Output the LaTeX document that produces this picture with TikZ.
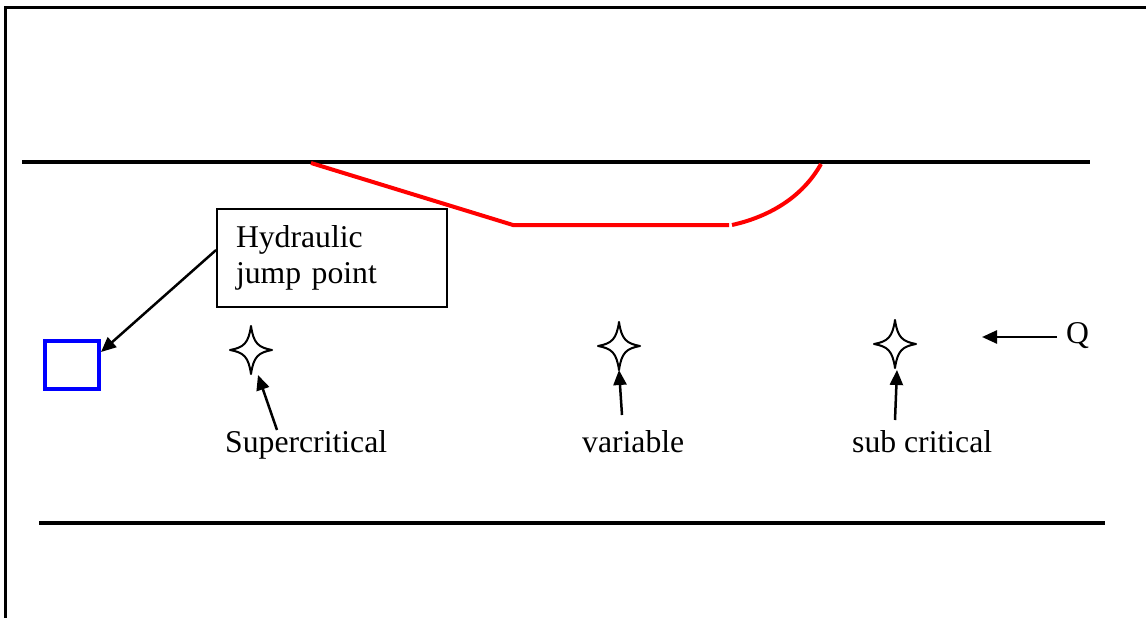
\documentclass[tikz,border=0pt]{standalone}
\usepackage{fontspec}
\setmainfont{Liberation Serif}
\usetikzlibrary{arrows.meta}
\tikzset{
  lbl/.style={inner sep=0pt, anchor=base west, font=\fontsize{31.7}{36}\selectfont},
  bank/.style={line width=4pt},
  arr/.style={line width=2.5pt, -{Triangle[length=15pt,width=13pt]}},
  red path/.style={red, line width=4pt},
  star4/.pic={\draw[line width=2pt, fill=white, line join=round]
    (0,-24) .. controls (2.5,-7) and (7,-2.5) .. (21,0)
            .. controls (7,2.5) and (2.5,7) .. (0,24)
            .. controls (-2.5,7) and (-7,2.5) .. (-21,0)
            .. controls (-7,-2.5) and (-2.5,-7) .. cycle;}
}
\begin{document}
\begin{tikzpicture}[x=1pt,y=-1pt]
\useasboundingbox (0,0) rectangle (1146,618);
% frame
\draw[line width=2.5pt] (5.5,618) -- (5.5,7.5) -- (1146,7.5);
% channel banks
\coordinate (t1) at (22,162);
\coordinate (t2) at (1090,162);
\coordinate (b1) at (39,523);
\coordinate (b2) at (1105,523);
\draw[bank] (t1) -- (t2);
\draw[bank] (b1) -- (b2);
% red profile
\coordinate (r1) at (311,163);
\coordinate (r2) at (513,225);
\coordinate (r3) at (729,225);
\coordinate (r4) at (732,225);
\coordinate (r5) at (821,164);
\draw[red path] (r1) -- (r2) -- (r3);
\draw[red path] (r4) .. controls (768,217) and (802,198) .. (r5);
% hydraulic jump box
\node[draw, line width=1.8pt, minimum width=230pt, minimum height=98pt,
      text width=192pt, align=left, inner xsep=19pt,
      font=\fontsize{31.7}{36}\selectfont] (hjp) at (332,258)
      {Hydraulic\\jump point};
\node[draw=blue, line width=4pt, minimum width=54pt, minimum height=48pt, inner sep=0pt] (sq) at (72,365) {};
\draw[arr] ([yshift=8pt]hjp.west) -- ([yshift=13pt]sq.east);
% stars
\coordinate (s1) at (251,350);
\coordinate (s2) at (619,346);
\coordinate (s3) at (895,344);
\pic at (s1) {star4};
\pic at (s2) {star4};
\pic at (s3) {star4};
\coordinate (s1tip) at (258,375);
\coordinate (s2tip) at (619,370);
\coordinate (s3tip) at (897,370);
% labels
\node[lbl] (sup) at (225,452) {Supercritical};
\node[lbl] (var) at (582,452) {variable};
\node[lbl] (sub) at (852,452) {sub critical};
\node[lbl] (q) at (1066,343) {Q};
\coordinate (a1) at (277,430);
\coordinate (a2) at (622,415);
\coordinate (a3) at (895,420);
\coordinate (qa) at (1057,337);
\coordinate (qtip) at (982,337);
\draw[arr] (a1) -- (s1tip);
\draw[arr] (a2) -- (s2tip);
\draw[arr] (a3) -- (s3tip);
\draw[arr] (qa) -- (qtip);
\end{tikzpicture}
\end{document}
